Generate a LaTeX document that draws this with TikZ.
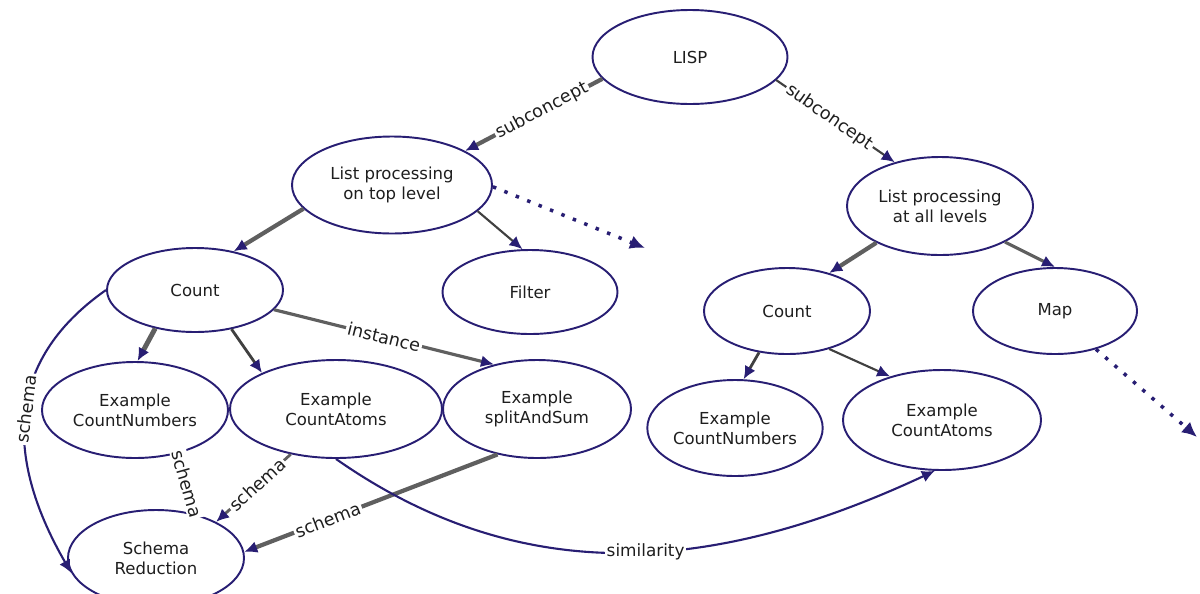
\documentclass[tikz,border=0pt]{standalone}
\usepackage{fontspec}
\setmainfont{DejaVu Sans}
\usetikzlibrary{arrows.meta,positioning,shapes}
\definecolor{navy}{RGB}{40,30,115}
\definecolor{linkgray}{RGB}{95,95,95}
\definecolor{textgray}{RGB}{30,30,30}
\tikzset{
concept/.style 2 args={
	% The shape:
	ellipse,
	% The size:
	minimum width=#1cm,
	minimum height=#2cm,
	inner sep=0pt,
	% The border:
	draw=navy,
	line width=1.1pt,
	% Font
	font=\fontsize{9.4}{11.2}\selectfont,
	text=textgray,
	align=center
},
tip/.style={-{Latex[length=2.6mm,width=2.4mm,color=navy]}},
isa/.style={tip, draw=linkgray, line width=2.4pt},
link/.style={tip, draw=textgray!85, line width=1.2pt},
rel/.style={tip, draw=navy, line width=1.2pt},
more/.style={-{Latex[length=3mm,width=2.8mm]}, draw=navy, line width=2pt,
	dash pattern=on 2pt off 5pt},
lbl/.style={fill=white, inner sep=1pt, text=textgray,
	font=\fontsize{10}{12}\selectfont}
}

\begin{document}
\begin{tikzpicture}[on grid]
	\useasboundingbox (0,0) rectangle (24,-11.86);
	\node[concept={3.9}{1.88}] (lisp) at (13.8,-1.14) {LISP};
	\node[concept={4.0}{1.94}] (lptop)[below left=2.56cm and 5.96cm of lisp] {List processing\\on top level};
	\node[concept={3.72}{1.96}] (lpall)[below right=2.98cm and 5.0cm of lisp] {List processing\\at all levels};
	\node[concept={3.52}{1.68}] (countl)[below left=2.1cm and 3.94cm of lptop] {Count};
	\node[concept={3.5}{1.68}] (filter)[below right=2.14cm and 2.76cm of lptop] {Filter};
	\node[concept={3.32}{1.72}] (countr)[below left=2.1cm and 3.06cm of lpall] {Count};
	\node[concept={3.28}{1.72}] (map)[below right=2.1cm and 2.3cm of lpall] {Map};
	\node[concept={3.72}{1.92}] (exnuml)[below left=2.4cm and 1.2cm of countl] {Example\\CountNumbers};
	\node[concept={4.24}{1.96}] (exatoml)[below right=2.38cm and 2.82cm of countl] {Example\\CountAtoms};
	\node[concept={3.76}{1.96}] (exsplit)[right=4.02cm of exatoml] {Example\\splitAndSum};
	\node[concept={3.48}{1.92}] (exnumr)[below left=2.34cm and 1.04cm of countr] {Example\\CountNumbers};
	\node[concept={3.96}{2.0}] (exatomr)[below right=2.18cm and 3.1cm of countr] {Example\\CountAtoms};
	\node[concept={3.52}{1.92}] (schema)[below right=2.96cm and 0.42cm of exnuml] {Schema\\Reduction};
	\coordinate (toplvlmore) at (12.9,-4.96);
	\coordinate (mapmore) at (23.94,-8.74);

	% subconcepts
	\draw[isa] (lisp.194) -- node[lbl, sloped, pos=0.44] {subconcept} (lptop.25);
	\draw[link] (lisp.345) -- node[lbl, sloped, pos=0.45] {subconcept} (lpall.136);
	\draw[isa] (lptop.195) -- (countl.45);
	\draw[link] (lptop.343) -- (filter.100);
	\draw[more] (lptop.359) -- (toplvlmore);
	\draw[isa] (lpall.210) -- (countr.42);
	\draw[isa, line width=1.8pt] (lpall.331) -- (map.90);
	\draw[more] (map.317) -- (mapmore);
	\draw[isa, line width=2.8pt] (countl.224) -- (exnuml.87);
	\draw[link, line width=1.6pt] (countl.313) -- (exatoml.154);
	\draw[link, line width=1.6pt] (countr.236) -- (exnumr.80);
	\draw[link] (countr.318) -- (exatomr.140);
	% instances and schemas
	\draw[isa, line width=1.8pt] (countl.346) -- node[lbl, sloped, pos=0.5] {instance} (exsplit.134);
	\draw[rel] (countl.west) to[out=215, in=120, looseness=1.15]
		node[lbl, sloped, pos=0.47] {schema} (schema.190);
	\draw[rel] (exnuml.315) -- node[lbl, sloped, pos=0.5] {schema} (schema.48);
	\draw[isa, line width=1.6pt] (exatoml.225) -- node[lbl, sloped, pos=0.45] {schema} (schema.31);
	\draw[isa] (exsplit.229) -- node[lbl, sloped, pos=0.67] {schema} (schema.4);
	\draw[rel] (exatoml.south) to[out=-35, in=205]
		node[lbl, pos=0.53, font=\fontsize{9.6}{11}\selectfont] {similarity} (exatomr.262);
\end{tikzpicture}
\end{document}
